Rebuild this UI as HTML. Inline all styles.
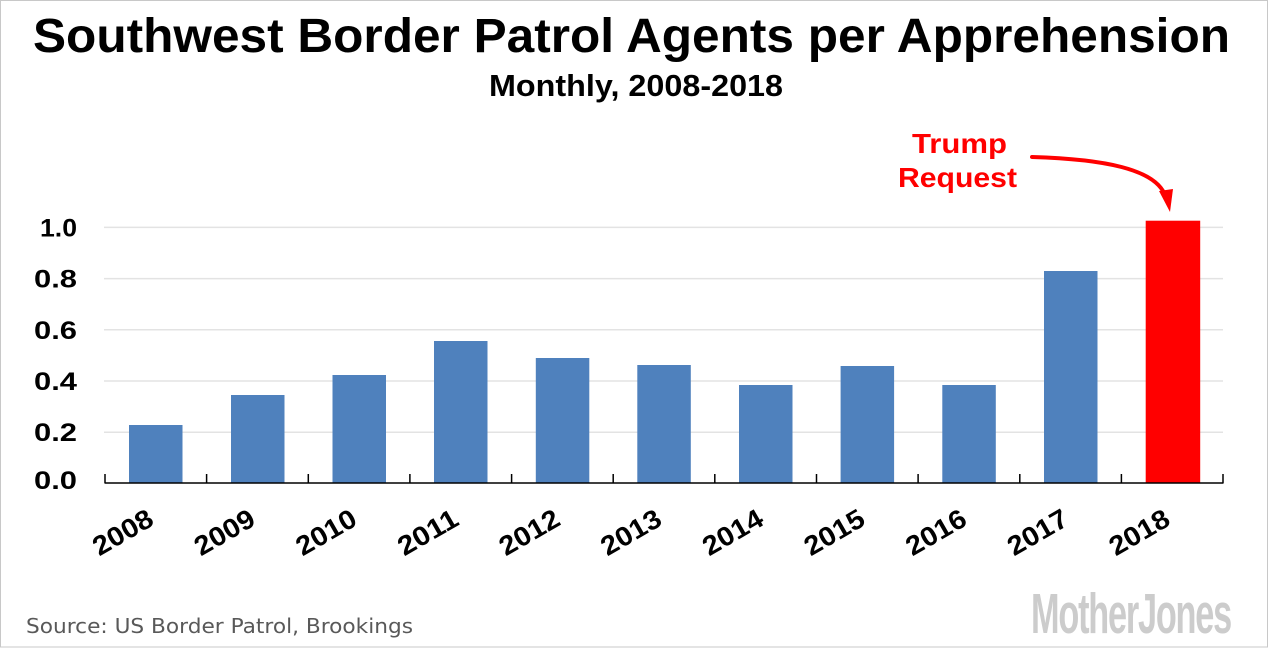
<!DOCTYPE html>
<html>
<head>
<meta charset="utf-8">
<style>
  html,body{margin:0;padding:0;background:#fff;}
  svg{display:block;}
</style>
</head>
<body>
<svg width="1268" height="648" viewBox="0 0 1268 648" xmlns="http://www.w3.org/2000/svg" font-family="'Liberation Sans', sans-serif">
  <rect x="0.5" y="0.5" width="1267" height="646.5" fill="#fff" stroke="#c8c8c8" stroke-width="1"/>

  <!-- Title -->
  <text x="33" y="52" font-size="48" font-weight="bold" fill="#000" textLength="1197" lengthAdjust="spacingAndGlyphs">Southwest Border Patrol Agents per Apprehension</text>
  <text x="489" y="96" font-size="31" font-weight="bold" fill="#000" textLength="294" lengthAdjust="spacingAndGlyphs">Monthly, 2008-2018</text>

  <!-- Gridlines -->
  <g stroke="#e3e3e3" stroke-width="1.5">
    <line x1="104" y1="227.4" x2="1223" y2="227.4"/>
    <line x1="104" y1="278.6" x2="1223" y2="278.6"/>
    <line x1="104" y1="329.8" x2="1223" y2="329.8"/>
    <line x1="104" y1="381" x2="1223" y2="381"/>
    <line x1="104" y1="432.2" x2="1223" y2="432.2"/>
  </g>

  <!-- Y labels -->
  <g font-size="25" font-weight="bold" fill="#000" text-anchor="end">
    <text x="77" y="236.4" textLength="37" lengthAdjust="spacingAndGlyphs">1.0</text>
    <text x="77" y="287.6" textLength="43" lengthAdjust="spacingAndGlyphs">0.8</text>
    <text x="77" y="338.8" textLength="43" lengthAdjust="spacingAndGlyphs">0.6</text>
    <text x="77" y="390" textLength="43" lengthAdjust="spacingAndGlyphs">0.4</text>
    <text x="77" y="441.2" textLength="43" lengthAdjust="spacingAndGlyphs">0.2</text>
    <text x="77" y="489" textLength="43" lengthAdjust="spacingAndGlyphs">0.0</text>
  </g>

  <!-- Bars -->
  <g fill="#4f81bd">
    <rect x="129" y="425" width="53.5" height="58"/>
    <rect x="231" y="395" width="53.5" height="88"/>
    <rect x="332.5" y="375" width="53.5" height="108"/>
    <rect x="434" y="341" width="53.5" height="142"/>
    <rect x="535.8" y="358" width="53.5" height="125"/>
    <rect x="637.3" y="365" width="53.5" height="118"/>
    <rect x="739" y="385" width="53.5" height="98"/>
    <rect x="840.6" y="366" width="53.5" height="117"/>
    <rect x="942.3" y="385" width="53.5" height="98"/>
    <rect x="1044" y="271" width="53.5" height="212"/>
  </g>
  <rect x="1145.7" y="220.7" width="54.5" height="262.3" fill="#ff0000"/>

  <!-- Axis and ticks -->
  <g stroke="#000" stroke-width="1.5">
    <line x1="104.5" y1="483" x2="1223.5" y2="483"/>
    <line x1="105" y1="474" x2="105" y2="483"/>
    <line x1="206.6" y1="474" x2="206.6" y2="483"/>
    <line x1="308.3" y1="474" x2="308.3" y2="483"/>
    <line x1="409.9" y1="474" x2="409.9" y2="483"/>
    <line x1="511.6" y1="474" x2="511.6" y2="483"/>
    <line x1="613.2" y1="474" x2="613.2" y2="483"/>
    <line x1="714.8" y1="474" x2="714.8" y2="483"/>
    <line x1="816.5" y1="474" x2="816.5" y2="483"/>
    <line x1="918.1" y1="474" x2="918.1" y2="483"/>
    <line x1="1019.8" y1="474" x2="1019.8" y2="483"/>
    <line x1="1121.4" y1="474" x2="1121.4" y2="483"/>
    <line x1="1223" y1="474" x2="1223" y2="483"/>
  </g>

  <!-- X labels -->
  <g font-size="27" font-weight="bold" fill="#000" text-anchor="end">
    <text transform="translate(155.5,524) rotate(-30)" textLength="65" lengthAdjust="spacingAndGlyphs">2008</text>
    <text transform="translate(257.2,524) rotate(-30)" textLength="65" lengthAdjust="spacingAndGlyphs">2009</text>
    <text transform="translate(358.8,524) rotate(-30)" textLength="65" lengthAdjust="spacingAndGlyphs">2010</text>
    <text transform="translate(460.5,524) rotate(-30)" textLength="65" lengthAdjust="spacingAndGlyphs">2011</text>
    <text transform="translate(562.1,524) rotate(-30)" textLength="65" lengthAdjust="spacingAndGlyphs">2012</text>
    <text transform="translate(663.7,524) rotate(-30)" textLength="65" lengthAdjust="spacingAndGlyphs">2013</text>
    <text transform="translate(765.4,524) rotate(-30)" textLength="65" lengthAdjust="spacingAndGlyphs">2014</text>
    <text transform="translate(867,524) rotate(-30)" textLength="65" lengthAdjust="spacingAndGlyphs">2015</text>
    <text transform="translate(968.7,524) rotate(-30)" textLength="65" lengthAdjust="spacingAndGlyphs">2016</text>
    <text transform="translate(1070.3,524) rotate(-30)" textLength="65" lengthAdjust="spacingAndGlyphs">2017</text>
    <text transform="translate(1172,524) rotate(-30)" textLength="65" lengthAdjust="spacingAndGlyphs">2018</text>
  </g>

  <!-- Annotation -->
  <g font-size="28" font-weight="bold" fill="#ff0000" text-anchor="middle">
    <text x="959.5" y="153" textLength="95" lengthAdjust="spacingAndGlyphs">Trump</text>
    <text x="957.5" y="187" textLength="119" lengthAdjust="spacingAndGlyphs">Request</text>
  </g>
  <path d="M1032,157 C1100,159 1158,168 1166,198" fill="none" stroke="#ff0000" stroke-width="4" stroke-linecap="round"/>
  <polygon points="1159,191 1173,189 1170,212" fill="#ff0000"/>

  <!-- Source -->
  <text x="26" y="633" style="font-family:'DejaVu Sans', Verdana, sans-serif;" font-size="20" fill="#595959" textLength="387" lengthAdjust="spacingAndGlyphs">Source: US Border Patrol, Brookings</text>

  <!-- Logo -->
  <text x="1031" y="633" font-size="57" font-weight="bold" fill="#cccccc" textLength="200" lengthAdjust="spacingAndGlyphs" letter-spacing="-2">MotherJones</text>
</svg>
</body>
</html>
